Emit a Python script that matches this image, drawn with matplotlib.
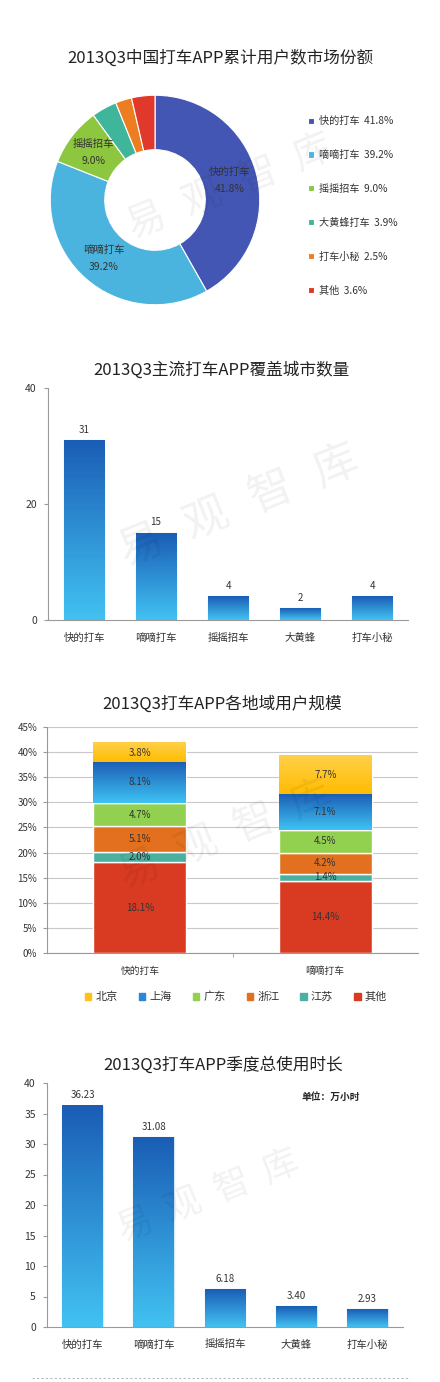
import numpy as np
import matplotlib
matplotlib.use("Agg")
import matplotlib.pyplot as plt
from matplotlib.colors import LinearSegmentedColormap
from matplotlib.patches import Patch
from matplotlib.lines import Line2D

plt.rcParams["font.family"] = ["Noto Sans CJK SC", "DejaVu Sans"]

# ---- data ----
share_names = ["快的打车", "嘀嘀打车", "摇摇招车", "大黄蜂打车", "打车小秘", "其他"]
share_values = [41.8, 39.2, 9.0, 3.9, 2.5, 3.6]
share_colors = ["#4356b3", "#4bb4de", "#8dc63f", "#3fb59b", "#ee7d22", "#e0392b"]

apps = ["快的打车", "嘀嘀打车", "摇摇招车", "大黄蜂", "打车小秘"]
city_counts = [31, 15, 4, 2, 4]

region_apps = ["快的打车", "嘀嘀打车"]
regions = ["其他", "江苏", "浙江", "广东", "上海", "北京"]
region_values = {
    "其他": [18.1, 14.4],
    "江苏": [2.0, 1.4],
    "浙江": [5.1, 4.2],
    "广东": [4.7, 4.5],
    "上海": [8.1, 7.1],
    "北京": [3.8, 7.7],
}
region_colors = {
    "其他": "#d93b22",
    "江苏": "#4bb0a0",
    "浙江": "#e2701e",
    "广东": "#92d050",
    "上海": "#2a86d6",
    "北京": "#ffc21a",
}

usage_hours = [36.23, 31.08, 6.18, 3.40, 2.93]

W, H = 440, 1382
TXT = "#333333"
AXC = "#9a9a9a"


def rect(l, t, r, b):
    return [l / W, 1 - b / H, (r - l) / W, (b - t) / H]


def fy(y):
    return 1 - y / H


def gradient(ax, bars, top, bottom):
    cmap = LinearSegmentedColormap.from_list("g", [bottom, top])
    grad = np.linspace(0, 1, 256).reshape(-1, 1)
    for b in bars:
        x, y = b.get_x(), b.get_y()
        w, h = b.get_width(), b.get_height()
        ax.imshow(grad, extent=(x, x + w, y, y + h), origin="lower",
                  cmap=cmap, aspect="auto", zorder=b.get_zorder() + 0.1)


def watermark(fig, cx, cy, step, size, angle=22):
    a = np.deg2rad(angle)
    for i, ch in enumerate("易观智库"):
        k = i - 1.5
        fig.text((cx + k * step * np.cos(a)) / W, fy(cy - k * step * np.sin(a)), ch,
                 fontsize=size, color="#000000", alpha=0.055, rotation=angle,
                 ha="center", va="center")


def bar_axes(ax, ymax, yticks):
    ax.set_xlim(-0.5, 4.5)
    ax.set_ylim(0, ymax)
    for s in ["top", "right"]:
        ax.spines[s].set_visible(False)
    for s in ["left", "bottom"]:
        ax.spines[s].set_color(AXC)
        ax.spines[s].set_linewidth(0.8)
    ax.set_yticks(yticks)
    ax.tick_params(axis="y", length=3, color=AXC, labelsize=7.5, labelcolor=TXT, pad=5)
    ax.set_xticks(range(len(apps)))
    ax.set_xticklabels(apps)
    ax.tick_params(axis="x", length=0, labelsize=7.5, labelcolor=TXT, pad=9)


fig = plt.figure(figsize=(W / 100, H / 100), dpi=100)
fig.patch.set_facecolor("white")

# ---- panel 1: donut ----
fig.text(220 / W, fy(58), "2013Q3中国打车APP累计用户数市场份额", fontsize=12,
         color="#222222", ha="center", va="center")
ax1 = fig.add_axes(rect(45, 90, 265, 310))
wedges, _ = ax1.pie(share_values, colors=share_colors, startangle=90,
                    counterclock=False, radius=1,
                    wedgeprops=dict(width=0.52, edgecolor="white", linewidth=0.8))
ax1.set_xlim(-1.05, 1.05)
ax1.set_ylim(-1.05, 1.05)
ax1.set_aspect("equal")
for w, name, v in list(zip(wedges, share_names, share_values))[:3]:
    ang = np.deg2rad((w.theta1 + w.theta2) / 2)
    ax1.text(0.74 * np.cos(ang), 0.74 * np.sin(ang), f"{name}\n{v:.1f}%",
             ha="center", va="center", fontsize=7.5, color=TXT, linespacing=1.8)
fig.legend(wedges, [f"{n}  {v:.1f}%" for n, v in zip(share_names, share_values)],
           loc="upper left", bbox_to_anchor=(299 / W, fy(107)), frameon=False,
           handlelength=0.55, handleheight=0.55, handletextpad=0.5,
           labelspacing=2.35, fontsize=7.3, labelcolor=TXT)
watermark(fig, 230, 187, 60, 28)

# ---- panel 2: city coverage ----
fig.text(221 / W, fy(370), "2013Q3主流打车APP覆盖城市数量", fontsize=12,
         color="#222222", ha="center", va="center")
ax2 = fig.add_axes(rect(48, 388, 408, 620))
bars2 = ax2.bar(range(len(apps)), city_counts, width=0.56, color="none",
                edgecolor="#d6e9f7", linewidth=1.0, zorder=2)
gradient(ax2, bars2, "#1a5db5", "#42c2f2")
for b, v in zip(bars2, city_counts):
    ax2.annotate(f"{v}", (b.get_x() + b.get_width() / 2, v), xytext=(0, 4),
                 textcoords="offset points", ha="center", va="bottom",
                 fontsize=7, color=TXT)
bar_axes(ax2, 40, [0, 20, 40])
watermark(fig, 238, 505, 70, 32)

# ---- panel 3: regions stacked ----
fig.text(222 / W, fy(704), "2013Q3打车APP各地域用户规模", fontsize=12,
         color="#222222", ha="center", va="center")
ax3 = fig.add_axes(rect(47, 727, 418, 953))
x3 = np.arange(len(region_apps))
bottom = np.zeros(len(region_apps))
for r in regions:
    vals = np.array(region_values[r])
    bs = ax3.bar(x3, vals, bottom=bottom, width=0.5, color=region_colors[r],
                 edgecolor="white", linewidth=1.0, zorder=2)
    if r == "上海":
        gradient(ax3, bs, "#1c5fb6", "#3ec3f3")
    elif r == "北京":
        gradient(ax3, bs, "#ffd04a", "#ffbc00")
    for xi, b0, v in zip(x3, bottom, vals):
        ax3.text(xi, b0 + v / 2, f"{v:.1f}%", ha="center", va="center",
                 fontsize=7, color=TXT, zorder=4)
    bottom += vals
ax3.set_xlim(-0.5, 1.5)
ax3.set_ylim(0, 45)
ax3.set_yticks(range(0, 46, 5))
ax3.set_yticklabels([f"{t}%" for t in range(0, 46, 5)])
ax3.grid(axis="y", color="#c8c8c8", linewidth=0.8, zorder=0)
ax3.set_axisbelow(True)
for s in ["top", "right"]:
    ax3.spines[s].set_visible(False)
for s in ["left", "bottom"]:
    ax3.spines[s].set_color(AXC)
    ax3.spines[s].set_linewidth(0.8)
ax3.tick_params(axis="y", length=3, color=AXC, labelsize=7, labelcolor=TXT, pad=4)
ax3.set_xticks(x3)
ax3.set_xticklabels(region_apps)
ax3.tick_params(axis="x", length=0, labelsize=7, labelcolor=TXT, pad=9)
ax3.set_xticks([0.5], minor=True)
ax3.tick_params(axis="x", which="minor", length=3, color=AXC)
legend_order = ["北京", "上海", "广东", "浙江", "江苏", "其他"]
fig.legend([Patch(color=region_colors[r]) for r in legend_order], legend_order,
           loc="center", bbox_to_anchor=(236 / W, fy(997)), ncol=6, frameon=False,
           handlelength=0.55, handleheight=0.55, handletextpad=0.4,
           columnspacing=1.9, fontsize=8, labelcolor=TXT)
watermark(fig, 225, 835, 62, 30)

# ---- panel 4: usage hours ----
fig.text(223 / W, fy(1065), "2013Q3打车APP季度总使用时长", fontsize=12,
         color="#222222", ha="center", va="center")
ax4 = fig.add_axes(rect(47, 1083, 403, 1327))
bars4 = ax4.bar(range(len(apps)), usage_hours, width=0.575, color="none",
                edgecolor="#d6e9f7", linewidth=1.0, zorder=2)
gradient(ax4, bars4, "#1a5db5", "#42c2f2")
for b, v in zip(bars4, usage_hours):
    ax4.annotate(f"{v:.2f}", (b.get_x() + b.get_width() / 2, v), xytext=(0, 4),
                 textcoords="offset points", ha="center", va="bottom",
                 fontsize=7, color=TXT)
bar_axes(ax4, 40, range(0, 41, 5))
fig.text(331 / W, fy(1097), "单位：万小时", fontsize=7, color="#222222",
         ha="center", va="center", fontweight="bold")
watermark(fig, 208, 1196, 52, 26)

fig.add_artist(Line2D([32 / W, 410 / W], [fy(1378), fy(1378)], color="#bbbbbb",
                      linewidth=0.8, linestyle=(0, (2, 2)), transform=fig.transFigure))

fig.savefig("out.png", dpi=100)
